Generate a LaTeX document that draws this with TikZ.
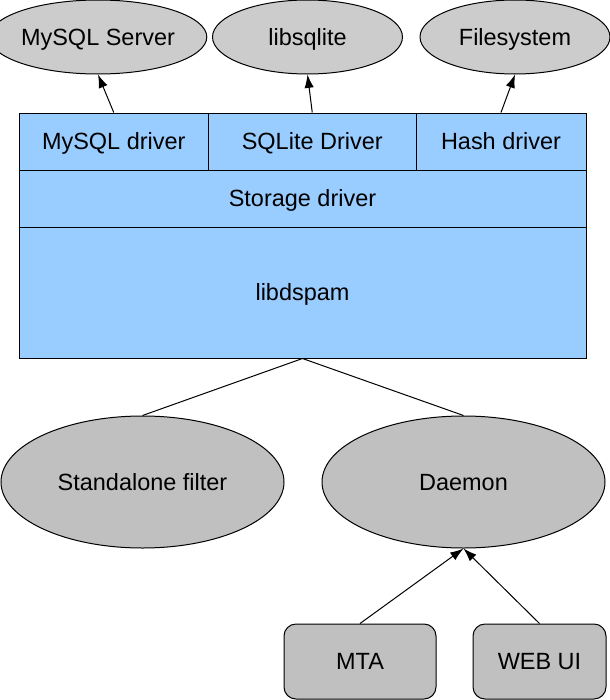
\documentclass[tikz,border=0pt]{standalone}
\usepackage{fontspec}
\setmainfont{Liberation Sans}
\usetikzlibrary{shapes.geometric,arrows.meta}
\definecolor{drvblue}{RGB}{153,204,255}
\definecolor{topgray}{RGB}{204,204,204}
\definecolor{botgray}{RGB}{192,192,192}
\begin{document}
\begin{tikzpicture}[x=0.75pt,y=0.75pt,yscale=-1,xscale=1,
  every node/.style={font=\fontsize{17.6}{21}\selectfont,text height=12.6pt,text depth=0pt},
  layer/.style={draw,fill=drvblue,line width=0.75pt,inner sep=0pt},
  backend/.style={draw,ellipse,fill=topgray,line width=0.75pt,inner sep=0pt,minimum width=142.5pt,minimum height=55.5pt},
  client/.style={draw,ellipse,fill=botgray,line width=0.75pt,inner sep=0pt,minimum width=212.25pt,minimum height=99pt},
  feeder/.style={draw,rounded corners=9pt,fill=botgray,line width=0.75pt,inner sep=0pt,minimum height=56.25pt},
  uses/.style={-{Latex[length=10pt,width=7pt]},line width=0.75pt},
  link/.style={line width=0.75pt}]
\useasboundingbox (0,0) rectangle (610,700);

% backends
\node [backend] (mysqlsrv) at (98,37) {MySQL Server};
\node [backend] (libsqlite) at (307.5,37) {libsqlite};
\node [backend] (filesys) at (515,37) {Filesystem};

% libdspam stack
\node [layer,minimum width=142.125pt,minimum height=42.75pt] (mysqldrv) at (113.75,141.5) {MySQL driver};
\node [layer,minimum width=155.625pt,minimum height=42.75pt] (sqlitedrv) at (312.25,141.5) {SQLite Driver};
\node [layer,minimum width=127.5pt,minimum height=42.75pt] (hashdrv) at (501,141.5) {Hash driver};
\node [layer,minimum width=425.25pt,minimum height=42.75pt] (storage) at (302.5,198.5) {Storage driver};
\node [layer,minimum width=425.25pt,minimum height=98.25pt] (libdspam) at (302.5,292.5) {libdspam};

% clients
\node [client] (standalone) at (142.5,482) {Standalone filter};
\node [client] (daemon) at (463.5,482) {Daemon};
\node [feeder,minimum width=114pt] (mta) at (360,661.5) {MTA};
\node [feeder,minimum width=99.75pt] (webui) at (539.5,661.5) {WEB UI};

\draw [uses] (mysqldrv.north) -- (mysqlsrv.south);
\draw [uses] (sqlitedrv.north) -- (libsqlite.south);
\draw [uses] (hashdrv.north) -- (filesys.south);
\draw [link] (libdspam.south) -- (standalone.north);
\draw [link] (libdspam.south) -- (daemon.north);
\draw [uses] (mta.north) -- (daemon.south);
\draw [uses] (webui.north) -- (daemon.south);

\end{tikzpicture}
\end{document}
